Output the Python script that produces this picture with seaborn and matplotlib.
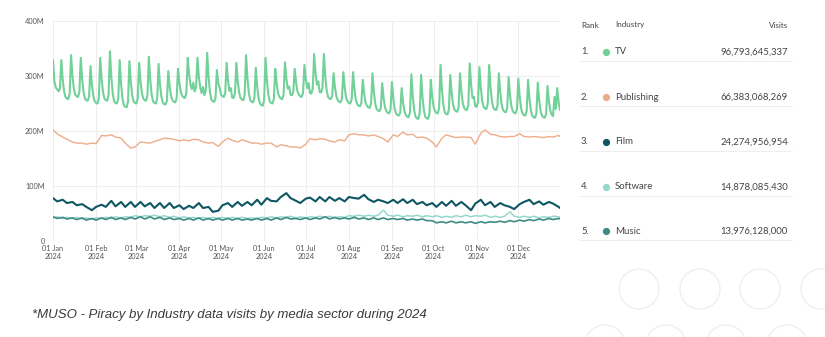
import numpy as np
import pandas as pd
import matplotlib
matplotlib.use("Agg")
import matplotlib.pyplot as plt
from matplotlib import font_manager
from matplotlib.patches import Circle
import seaborn as sns

# ---------------------------------------------------------------- data
industries = ["TV", "Publishing", "Film", "Software", "Music"]
totals = ["96,793,645,337", "66,383,068,269", "24,274,956,954",
          "14,878,085,430", "13,976,128,000"]
colors = ["#72d199", "#eeac8a", "#0e5663", "#96d8cd", "#3d8c83"]

# TV: daily visits (millions), one row per week Mon..Sun, then Dec 30-31
tv = [
    329, 290, 279, 276, 272, 277, 329,
    293, 272, 262, 259, 258, 268, 338,
    300, 277, 266, 263, 262, 271, 333,
    294, 271, 259, 256, 255, 263, 318,
    284, 264, 254, 251, 250, 260, 333,
    294, 271, 259, 256, 255, 266, 345,
    298, 269, 254, 251, 250, 259, 329,
    286, 260, 247, 244, 243, 253, 327,
    289, 265, 254, 251, 250, 259, 324,
    290, 269, 259, 256, 255, 265, 335,
    293, 267, 254, 251, 250, 259, 322,
    285, 263, 252, 249, 248, 255, 309,
    281, 263, 256, 253, 252, 259, 313,
    287, 271, 264, 261, 260, 269, 333,
    303, 284, 276, 288, 272, 279, 333,
    299, 279, 269, 280, 265, 274, 342,
    298, 271, 257, 254, 253, 260, 311,
    287, 278, 266, 263, 262, 269, 324,
    292, 273, 278, 261, 260, 268, 324,
    290, 270, 260, 257, 256, 266, 338,
    295, 269, 256, 253, 252, 260, 315,
    281, 260, 250, 247, 246, 256, 333,
    292, 267, 254, 251, 250, 258, 313,
    286, 269, 262, 259, 258, 266, 325,
    295, 277, 281, 266, 265, 271, 313,
    288, 272, 266, 263, 262, 269, 320,
    294, 278, 287, 269, 268, 277, 340,
    305, 284, 290, 271, 270, 278, 340,
    299, 274, 262, 259, 258, 264, 305,
    279, 263, 256, 253, 252, 259, 307,
    279, 261, 254, 251, 250, 257, 307,
    276, 257, 249, 246, 245, 251, 293,
    268, 252, 246, 243, 242, 250, 305,
    271, 250, 240, 237, 236, 242, 287,
    260, 243, 236, 233, 232, 239, 289,
    259, 240, 232, 229, 228, 234, 278,
    252, 236, 229, 226, 225, 234, 303,
    263, 238, 226, 223, 222, 232, 302,
    262, 238, 226, 223, 222, 231, 293,
    263, 244, 236, 233, 232, 243, 320,
    275, 248, 234, 231, 230, 239, 302,
    269, 248, 239, 236, 235, 243, 305,
    272, 251, 242, 239, 238, 248, 323,
    284, 260, 262, 245, 244, 253, 316,
    278, 255, 244, 241, 240, 250, 320,
    279, 254, 242, 239, 238, 246, 305,
    270, 248, 238, 235, 234, 242, 298,
    265, 245, 236, 233, 232, 240, 295,
    262, 241, 232, 229, 228, 236, 293,
    259, 238, 228, 225, 224, 232, 288,
    256, 237, 228, 225, 224, 231, 282,
    254, 237, 230, 227, 262, 240, 278,
    252, 238,
]

# Other sectors: visits (millions) sampled Mondays and Thursdays, plus Dec 31
publishing = [
    202, 195, 189, 185, 180, 178, 178, 176, 178, 177, 192, 191, 193, 189,
    187, 178, 169, 171, 180, 179, 178, 181, 184, 187, 186, 185, 182, 184,
    182, 185, 184, 180, 178, 179, 172, 180, 187, 183, 180, 184, 181, 178,
    178, 176, 178, 178, 171, 175, 173, 171, 171, 169, 176, 186, 184, 186,
    185, 182, 180, 184, 182, 193, 195, 193, 193, 191, 193, 190, 186, 180,
    193, 190, 198, 193, 194, 188, 189, 187, 180, 171, 187, 193, 190, 188,
    189, 189, 188, 176, 196, 202, 194, 193, 190, 189, 190, 190, 195, 190,
    189, 190, 189, 188, 190, 189, 192, 190,
]
film = [
    78, 72, 75, 69, 71, 65, 67, 62, 56, 62, 66, 62, 73, 63,
    71, 62, 71, 62, 71, 63, 69, 60, 69, 60, 69, 60, 65, 58,
    64, 60, 69, 60, 62, 53, 55, 65, 69, 62, 71, 64, 71, 65,
    75, 66, 78, 73, 72, 80, 87, 78, 73, 69, 77, 79, 72, 80,
    72, 80, 73, 78, 72, 80, 78, 77, 84, 76, 71, 75, 72, 69,
    75, 69, 76, 69, 75, 67, 71, 65, 69, 62, 71, 64, 73, 64,
    71, 65, 56, 68, 75, 65, 71, 62, 69, 65, 62, 58, 67, 71,
    75, 67, 72, 66, 71, 68, 62, 60,
]
software = [
    42, 44, 41, 43, 41, 43, 40, 42, 40, 42, 41, 43, 42, 44,
    42, 44, 43, 46, 44, 46, 45, 47, 44, 46, 43, 45, 42, 44,
    42, 43, 41, 43, 41, 43, 41, 43, 41, 43, 41, 43, 41, 42,
    41, 43, 42, 44, 42, 44, 43, 45, 42, 44, 42, 44, 43, 45,
    43, 45, 42, 44, 43, 46, 45, 47, 45, 47, 45, 47, 56, 47,
    45, 47, 44, 46, 45, 47, 44, 46, 44, 46, 43, 45, 43, 46,
    44, 47, 44, 46, 45, 47, 43, 45, 43, 45, 53, 45, 43, 45,
    43, 45, 42, 44, 43, 45, 44, 43,
]
music = [
    44, 41, 43, 40, 42, 39, 42, 38, 41, 38, 42, 39, 43, 39,
    42, 39, 43, 40, 44, 40, 44, 40, 43, 39, 42, 39, 41, 38,
    41, 38, 42, 38, 41, 38, 41, 38, 41, 38, 41, 38, 40, 38,
    41, 38, 41, 38, 42, 39, 43, 40, 41, 39, 42, 39, 42, 40,
    44, 40, 43, 40, 42, 40, 43, 40, 42, 39, 42, 39, 42, 39,
    41, 39, 41, 38, 40, 38, 40, 37, 37, 33, 35, 33, 36, 33,
    35, 33, 35, 32, 35, 33, 35, 34, 36, 34, 37, 35, 38, 36,
    39, 37, 40, 38, 41, 39, 41, 40,
]

tick_months = ["Jan", "Feb", "Mar", "Apr", "May", "Jun",
               "Jul", "Aug", "Sep", "Oct", "Nov", "Dec"]
y_ticks = [0, 100, 200, 300, 400]

# ---------------------------------------------------------------- frame
start = pd.Timestamp("2024-01-01")
daily_dates = pd.date_range(start, periods=len(tv), freq="D")
offsets = [7 * w + o for w in range(53) for o in (0, 3) if 7 * w + o <= 364] + [365]
sample_dates = start + pd.to_timedelta(offsets, unit="D")

frames = [pd.DataFrame({"date": daily_dates, "visits": tv, "industry": "TV"})]
for name, vals in [("Publishing", publishing), ("Film", film),
                   ("Software", software), ("Music", music)]:
    frames.append(pd.DataFrame({"date": sample_dates, "visits": vals,
                                "industry": name}))
df = pd.concat(frames, ignore_index=True)

# ---------------------------------------------------------------- figure
sns.set_theme(style="white")
plt.rcParams["font.family"] = ["Lato", "DejaVu Sans"]

W, H = 825, 337
fig = plt.figure(figsize=(W / 100, H / 100), dpi=100)
fig.patch.set_facecolor("white")

def fx(px):
    return px / W

def fy(py):
    return 1 - py / H

# faint decorative outline circles in the lower-right corner
for cx, cy in [(639, 289), (700, 289), (760, 289), (821, 289),
               (605, 345), (666, 345), (726, 345), (787, 345)]:
    fig.patches.append(Circle((cx, H - cy), 20, transform=None, fill=False,
                              edgecolor="#efefef", lw=1.0, zorder=0))

ax = fig.add_axes([fx(53), fy(241), fx(560) - fx(53), fy(21) - fy(241)])
palette = dict(zip(industries, colors))
widths = {"TV": 1.5, "Publishing": 1.0, "Film": 1.5, "Software": 1.1, "Music": 1.2}
for name in ["TV", "Publishing", "Film", "Software", "Music"]:
    sns.lineplot(data=df[df.industry == name], x="date", y="visits", ax=ax,
                 color=palette[name], lw=widths[name], legend=False)

ax.set_xlim(start, pd.Timestamp("2024-12-31"))
ax.set_ylim(0, 400)
ax.set_yticks(y_ticks)
ax.set_yticklabels([f"{v}M" if v else "0" for v in y_ticks])
month_starts = pd.date_range(start, periods=12, freq="MS")
ax.set_xticks(month_starts)
ax.set_xticklabels([f"01 {m}\n2024" for m in tick_months])
ax.set_xlabel("")
ax.set_ylabel("")
ax.grid(True, color="#eeeeee", lw=0.8)
for s in ax.spines.values():
    s.set_visible(False)
ax.tick_params(axis="both", length=0, labelsize=5.3, colors="#555555")
ax.tick_params(axis="y", pad=6)
ax.tick_params(axis="x", pad=3)

# ranking table
txt = "#444444"
fig.text(fx(581), fy(25), "Rank", fontsize=5.8, color=txt, va="center")
fig.text(fx(615), fy(25), "Industry", fontsize=5.8, color=txt, va="center")
fig.text(fx(788), fy(25), "Visits", fontsize=5.8, color=txt, va="center", ha="right")
row_y = [52, 97, 142, 187, 231]
for i, (name, total, col) in enumerate(zip(industries, totals, colors)):
    y = row_y[i]
    fig.text(fx(581), fy(y), f"{i + 1}.", fontsize=6.8, color=txt, va="center")
    fig.lines.append(plt.Line2D([fx(606)], [fy(y)], marker="o", ms=4.2,
                                color=col, transform=fig.transFigure))
    fig.text(fx(615), fy(y), name, fontsize=6.9, color=txt, va="center")
    fig.text(fx(788), fy(y), total, fontsize=6.9, color=txt, va="center", ha="right")
    fig.lines.append(plt.Line2D([fx(579), fx(792)], [fy(y + 9), fy(y + 9)],
                                color="#eeeeee", lw=0.8, transform=fig.transFigure))

# footnote, in a narrow sans when one is available
names = {f.name for f in font_manager.fontManager.ttflist}
if "Liberation Sans Narrow" in names:
    note_family, note_size = "Liberation Sans Narrow", 11.4
else:
    note_family, note_size = "Liberation Sans", 9.5
fig.text(fx(32), fy(315), "*MUSO - Piracy by Industry data visits by media sector during 2024",
         fontsize=note_size, style="italic", color="#3a3a3a", va="center",
         family=[note_family, "DejaVu Sans"])

fig.savefig("out.png", dpi=100)
